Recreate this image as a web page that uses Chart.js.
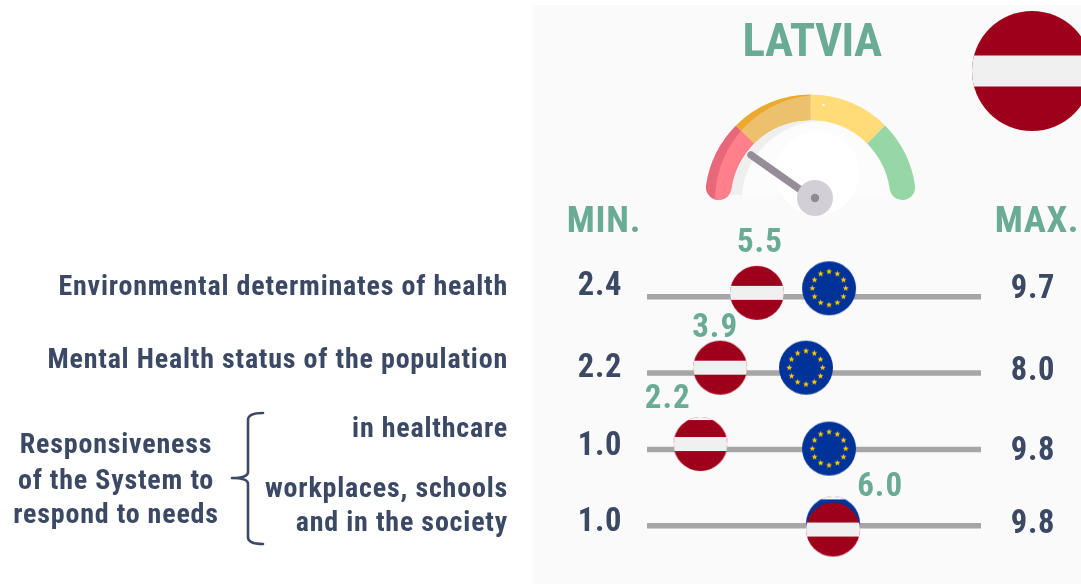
<!DOCTYPE html>
<html><head><meta charset="utf-8">
<script src="https://cdn.jsdelivr.net/npm/chart.js@4"></script>
<style>
html,body{margin:0;padding:0;background:#fff;overflow:hidden}
canvas{display:block}
</style></head><body>
<div style="position:relative;width:1081px;height:584px">
<div style="position:absolute;left:0;top:0;width:1081px;height:584px"><canvas id="main" width="1081" height="584"></canvas></div>
<div style="position:absolute;left:690px;top:85px;width:240px;height:135px"><canvas id="gauge" width="240" height="135"></canvas></div>
</div>
<script>
// ---- data ----
const rows = ["Environmental determinates of health","Mental Health status of the population","in healthcare","workplaces, schools and in the society"];
const minLabels = ["2.4","2.2","1.0","1.0"];
const maxLabels = ["9.7","8.0","9.8","9.8"];
const valueLabels = ["5.5","3.9","2.2","6.0"];
// marker positions along each row's slider (percent of slider length)
const latviaPos = [32.9,21.9,16.0,55.7];
const euPos = [54.5,47.6,54.5,55.7];
// vertical placement in row units (row index plus small offset seen in the picture)
const latviaRow = [-0.05,0.93,1.93,3.05];
const euRow = [-0.11,0.93,1.99,2.97];
const valueLabelPos = [33.5,20.1,5.9,69.5];
const valueLabelRow = [-0.695,0.415,1.355,2.505];
const gaugeBands = [45,45,45,45];

const NAVY="#3b4965", GREEN="#69ab94", CRIMSON="#9e001c", BAND="#f0f0f0", PANEL="#fafafa";
const FAMILY='"Roboto Condensed","Roboto",sans-serif';

function makeLatvia(r,bandH,clipTop){
  const c=document.createElement('canvas');c.width=c.height=2*r+4;
  const x=c.getContext('2d'),m=r+2;
  x.beginPath();x.arc(m,m,r,0,Math.PI*2);x.clip();
  x.fillStyle=CRIMSON;x.fillRect(0,0,c.width,c.height);
  x.fillStyle=BAND;x.fillRect(0,m-bandH/2,c.width,bandH);
  if(clipTop)x.clearRect(0,0,c.width,2+clipTop);
  return c;
}
function makeEU(r,clipTop){
  const c=document.createElement('canvas');c.width=c.height=2*r+4;
  const x=c.getContext('2d'),m=r+2;
  x.save();x.beginPath();x.arc(m,m,r,0,Math.PI*2);x.clip();
  x.fillStyle="#003399";x.fillRect(0,0,c.width,c.height);
  x.fillStyle="#ffcc00";
  for(let i=0;i<12;i++){
    const a=i*Math.PI/6, sx=m+16.7*Math.sin(a), sy=m-16.7*Math.cos(a);
    x.beginPath();
    for(let k=0;k<10;k++){
      const rr=k%2?1.35:3.2,b=k*Math.PI/5;
      x.lineTo(sx+rr*Math.sin(b),sy-rr*Math.cos(b));
    }
    x.closePath();x.fill();
  }
  if(clipTop)x.clearRect(0,0,c.width,2+clipTop);
  x.restore();
  return c;
}
const lvPlain=makeLatvia(27,14,0), lvClip=makeLatvia(27,14,3);
const euPlain=makeEU(27,0), euClip=makeEU(27,3);
const bigFlag=makeLatvia(60,31,0);

function put(ctx,str,x,y,size,align,color,ls){
  ctx.save();
  ctx.font='700 '+size+'px '+FAMILY;
  ctx.letterSpacing=(ls||0)+'px';
  ctx.fillStyle=color;ctx.textBaseline='middle';ctx.textAlign=align;
  ctx.fillText(str,x,y);
  ctx.restore();
}

const decor={
  id:'decor',
  beforeDraw(ch){
    const c=ch.ctx;
    c.save();
    c.fillStyle='#fff';c.fillRect(0,0,1081,584);
    c.fillStyle=PANEL;c.fillRect(533,5,548,579);
    c.drawImage(bigFlag,1032-62,71-62);
    c.restore();
  },
  afterDraw(ch){
    const c=ch.ctx;
    put(c,"LATVIA",812,44,47,'center',GREEN,-0.6);
    put(c,"MIN.",604,223,37,'center',GREEN,0.8);
    put(c,"MAX.",1037,223,37,'center',GREEN,0.6);
    const minY=[287,369,447,523], maxY=[290,372,452,525];
    minLabels.forEach((t,i)=>put(c,t,600,minY[i],32.5,'center',NAVY,.8));
    maxLabels.forEach((t,i)=>put(c,t,1033,maxY[i],32.5,'center',NAVY,.8));
    const xs=ch.scales.x, ys=ch.scales.y;
    valueLabels.forEach((t,i)=>put(c,t,xs.getPixelForValue(valueLabelPos[i])+1,ys.getPixelForValue(valueLabelRow[i]),33,'center',GREEN,1));
    const L=[[rows[0],508,288],[rows[1],508,361],[rows[2],508,430],["workplaces, schools",508,490],["and in the society",508,524]];
    L.forEach(a=>put(c,a[0],a[1],a[2],28,'right',NAVY,.8));
    put(c,"Responsiveness",116,446,28,'center',NAVY,.8);
    put(c,"of the System to",116,482,28,'center',NAVY,.8);
    put(c,"respond to needs",116,516,28,'center',NAVY,.8);
    c.save();
    c.strokeStyle=NAVY;c.lineWidth=2.6;c.lineCap='round';c.lineJoin='round';
    c.beginPath();
    c.moveTo(263,413);c.quadraticCurveTo(248,413,248,420);
    c.lineTo(248,472);c.quadraticCurveTo(248,478,232,478);
    c.moveTo(232,478);c.quadraticCurveTo(248,478,248,484);
    c.lineTo(248,537);c.quadraticCurveTo(248,544,263,544);
    c.stroke();
    c.restore();
  }
};

const lineSets=rows.map((r,i)=>({
  label:r,showLine:true,data:[{x:0,y:i},{x:100,y:i}],
  borderColor:'#a6a6a6',borderWidth:5.5,pointRadius:0,order:5,clip:false
}));

new Chart(document.getElementById('main'),{
  type:'scatter',
  data:{datasets:[
    ...lineSets,
    {label:'EU',data:euPos.map((x,i)=>({x,y:euRow[i]})),pointStyle:[euPlain,euPlain,euPlain,euClip],pointRadius:27,order:2,clip:false},
    {label:'Latvia',data:latviaPos.map((x,i)=>({x,y:latviaRow[i]})),pointStyle:[lvPlain,lvPlain,lvClip,lvPlain],pointRadius:27,order:1,clip:false}
  ]},
  options:{
    responsive:false,animation:false,
    layout:{autoPadding:false,padding:{left:647,right:100,top:258.5,bottom:20.1}},
    plugins:{legend:{display:false},tooltip:{enabled:false},title:{display:false}},
    scales:{
      x:{type:'linear',min:0,max:100,display:false},
      y:{type:'linear',min:-0.5,max:3.5,reverse:true,display:false}
    }
  },
  plugins:[decor]
});

const gaugeColors=["#e8687a","#eba92f","#ffdc78","#97d7a5"];
const gaugeLight=["#ff7f8b","#edc06e",null,null];
const gaugeDeco={
  id:'gaugeDeco',
  beforeDatasetsDraw(ch){
    const c=ch.ctx,el=ch.getDatasetMeta(0).data[0],cx=el.x,cy=el.y;
    c.save();
    c.beginPath();c.rect(0,0,240,cy-5);c.clip();
    c.fillStyle='#efefef';c.beginPath();c.arc(cx,cy,el.innerRadius+1,0,Math.PI*2);c.fill();
    c.fillStyle='#fcfcfc';c.beginPath();c.arc(cx+12,cy+2,el.innerRadius+1,0,Math.PI*2);c.fill();
    c.restore();
    c.save();
    c.fillStyle='#ffffff';c.beginPath();c.arc(cx+7,cy-27,42,0,Math.PI*2);c.fill();
    c.restore();
  },
  afterDatasetsDraw(ch){
    const c=ch.ctx,meta=ch.getDatasetMeta(0),cx=meta.data[0].x,cy=meta.data[0].y;
    c.save();
    c.beginPath();c.arc(cx+9.5,cy,105,0,Math.PI*2);c.clip();
    [0,1].forEach(i=>{
      const el=meta.data[i],o=el.options;
      el.options={...o,backgroundColor:gaugeLight[i],borderWidth:0};
      el.draw(c);
      el.options=o;
    });
    c.restore();
    const hx=cx+4.5,hy=cy-2;
    c.save();
    c.strokeStyle='#958e98';c.lineWidth=7.5;c.lineCap='round';
    c.beginPath();c.moveTo(hx-64,hy-43);c.lineTo(hx-10,hy-5);c.stroke();
    c.fillStyle='#d3cfd6';c.beginPath();c.arc(hx,hy,18,0,Math.PI*2);c.fill();
    c.fillStyle='#8f8a94';c.beginPath();c.arc(hx,hy,4.2,0,Math.PI*2);c.fill();
    c.fillStyle='#fff';c.beginPath();c.arc(cx+13,cy-95,1.2,0,Math.PI*2);c.fill();
    c.restore();
  }
};
new Chart(document.getElementById('gauge'),{
  type:'doughnut',
  data:{labels:["red","amber","yellow","green"],datasets:[{
    data:gaugeBands,backgroundColor:gaugeColors,borderWidth:0,
    borderRadius:[{outerStart:13,innerStart:13,outerEnd:0,innerEnd:0},0,0,{outerStart:0,innerStart:0,outerEnd:13,innerEnd:13}]
  }]},
  options:{
    responsive:false,animation:false,
    rotation:-90,circumference:180,cutout:'75.8%',
    layout:{autoPadding:false,padding:{left:15,right:14,top:9.5,bottom:20}},
    plugins:{legend:{display:false},tooltip:{enabled:false}}
  },
  plugins:[gaugeDeco]
});
</script>
</body></html>
